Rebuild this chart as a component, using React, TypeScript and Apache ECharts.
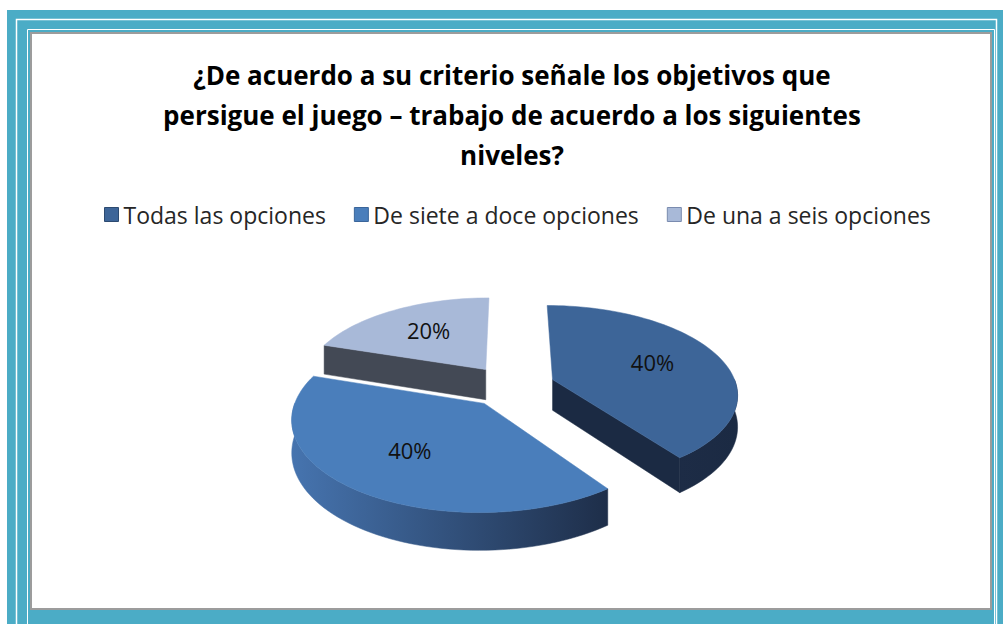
import React, { useEffect, useRef } from 'react';
import * as echarts from 'echarts';

const titleText = '¿De acuerdo a su criterio señale los objetivos que\npersigue el juego – trabajo de acuerdo a los siguientes\nniveles?';
const categories = ['Todas las opciones', 'De siete a doce opciones', 'De una a seis opciones'];
const percentages = [40, 40, 20];
const topColors = ['#3D6598', '#4A7EBB', '#A8B9D8'];
const wallColorsA = ['#1D2C46', '#4674AF', '#434955'];
const wallColorsB = ['#1B2A43', '#1E2E49', '#434955'];
const legendBorders = ['#2C4A70', '#3A659A', '#7A8BAF'];
const drawZ = [2, 3, 1];

const CX = 511;
const CY = 386;
const RX = 184;
const RY = 87;
const H = 31;
const K = 0.15;
const EXPLODE = 0.24;

const total = percentages.reduce((s, v) => s + v, 0);
const starts: number[] = [];
percentages.reduce((acc, v, i) => {
  starts[i] = acc;
  return acc + v;
}, 0);

function proj(theta: number, r: number, ox: number, oy: number, bottom: boolean): number[] {
  const u = r * Math.sin(theta) + ox;
  const v = -r * Math.cos(theta) + oy;
  const p = 1 / (1 - K * v);
  return [CX + RX * u * p, CY + (RY * v + (bottom ? H : 0)) * p];
}

function arcPts(a0: number, a1: number, ox: number, oy: number, bottom: boolean): number[][] {
  const pts: number[][] = [];
  const n = Math.max(2, Math.ceil(((a1 - a0) * 180) / Math.PI / 2));
  for (let i = 0; i <= n; i++) {
    const t = a0 + ((a1 - a0) * i) / n;
    pts.push(proj(t, 1, ox, oy, bottom));
  }
  return pts;
}

function makeRenderItem(idx: number) {
  return (params: any, api: any) => {
    const val = api.value(0);
    const st = api.value(1);
    const a0 = (st / total) * Math.PI * 2;
    const a1 = ((st + val) / total) * Math.PI * 2;
    const mid = (a0 + a1) / 2;
    const ox = EXPLODE * Math.sin(mid);
    const oy = -EXPLODE * Math.cos(mid);
    const children: any[] = [];
    const wallFill =
      wallColorsA[idx] === wallColorsB[idx]
        ? wallColorsA[idx]
        : new echarts.graphic.LinearGradient(0, 0, 1, 0, [
            { offset: 0, color: wallColorsA[idx] },
            { offset: 1, color: wallColorsB[idx] },
          ]);
    const w0 = Math.max(a0, Math.PI / 2);
    const w1 = Math.min(a1, (Math.PI * 3) / 2);
    if (w1 > w0) {
      const topP = arcPts(w0, w1, ox, oy, false);
      const botP = arcPts(w0, w1, ox, oy, true).reverse();
      children.push({
        type: 'polygon',
        shape: { points: topP.concat(botP) },
        style: { fill: wallFill, stroke: wallFill, lineWidth: 0.5 },
      });
    }
    const face = (a: number, color: string) => {
      const c0 = proj(a, 0, ox, oy, false);
      const r0 = proj(a, 1, ox, oy, false);
      const r1 = proj(a, 1, ox, oy, true);
      const c1 = proj(a, 0, ox, oy, true);
      children.push({
        type: 'polygon',
        shape: { points: [c0, r0, r1, c1] },
        style: { fill: color, stroke: color, lineWidth: 0.5 },
      });
    };
    if (-Math.sin(a0) > 0.01) face(a0, wallColorsB[idx]);
    if (Math.sin(a1) > 0.01) face(a1, wallColorsB[idx]);
    const apex = proj(0, 0, ox, oy, false);
    children.push({
      type: 'polygon',
      shape: { points: [apex].concat(arcPts(a0, a1, ox, oy, false)) },
      style: { fill: topColors[idx], stroke: topColors[idx], lineWidth: 0.5 },
    });
    const lp = proj(mid, 0.6, ox, oy, false);
    children.push({
      type: 'text',
      x: lp[0],
      y: lp[1] - 2,
      style: {
        text: Math.round((val / total) * 100) + '%',
        fontSize: 22,
        fontFamily: 'Open Sans',
        fill: '#111111',
        textAlign: 'center',
        textVerticalAlign: 'middle',
      },
    });
    return { type: 'group', children };
  };
}

export default function App() {
  const ref = useRef<HTMLDivElement>(null);
  useEffect(() => {
    if (!ref.current) return;
    const chart = echarts.init(ref.current, undefined, { renderer: 'svg' });
    chart.setOption({
      animation: false,
      backgroundColor: '#ffffff',
      graphic: [
        { type: 'rect', z: -10, shape: { x: 7, y: 10, width: 996, height: 614 }, style: { fill: '#4BACC6' } },
        { type: 'rect', z: -9, shape: { x: 16.5, y: 19.5, width: 980, height: 700 }, style: { fill: 'none', stroke: '#ffffff', lineWidth: 1.5 } },
        { type: 'rect', z: -9, shape: { x: 27.5, y: 29.5, width: 967, height: 700 }, style: { fill: 'none', stroke: '#ffffff', lineWidth: 1 } },
        { type: 'rect', z: -8, shape: { x: 31, y: 33, width: 960, height: 576 }, style: { fill: '#ffffff', stroke: '#9C9C9C', lineWidth: 2 } },
      ],
      title: {
        text: titleText,
        left: 507,
        top: 50,
        textAlign: 'center',
        textStyle: {
          fontFamily: 'Open Sans',
          fontWeight: 'bold',
          fontSize: 26,
          lineHeight: 40,
          color: '#000000',
        },
      },
      legend: {
        top: 198,
        left: 99,
        padding: 5,
        icon: 'rect',
        itemWidth: 14,
        itemHeight: 14,
        itemGap: 28,
        textStyle: { fontFamily: 'Open Sans', fontSize: 23, color: '#262626' },
        data: categories.map((c, i) => ({
          name: c,
          itemStyle: { borderColor: legendBorders[i], borderWidth: 1 },
        })),
      },
      series: categories.map((c, i) => ({
        type: 'custom',
        name: c,
        coordinateSystem: 'none',
        z: drawZ[i],
        itemStyle: { color: topColors[i] },
        renderItem: makeRenderItem(i),
        data: [[percentages[i], starts[i]]],
      })),
    });
    return () => chart.dispose();
  }, []);
  return <div ref={ref} style={{ position: 'fixed', left: 0, top: 0, width: 1003, height: 624 }} />;
}
